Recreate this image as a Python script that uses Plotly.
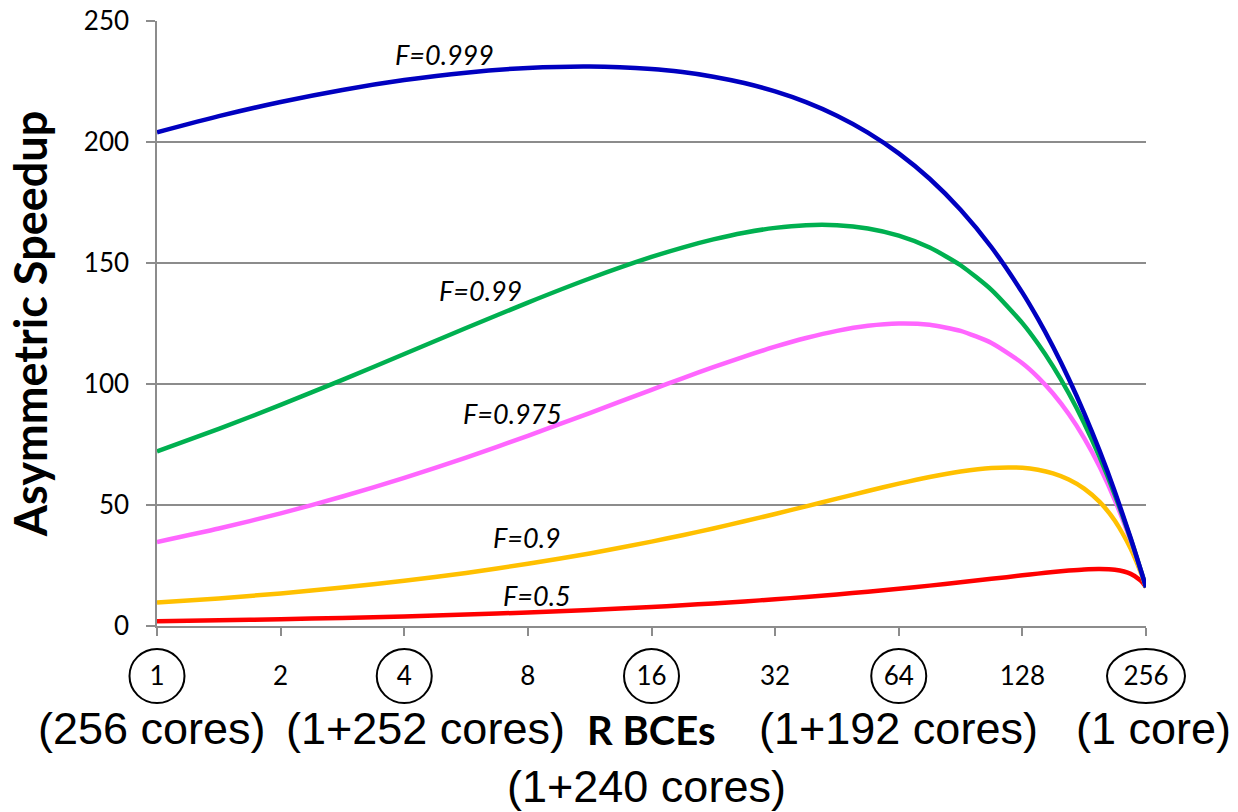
import plotly.graph_objects as go
import math

# R BCEs per big core (x positions)
r_bce = [1, 1.414, 2, 2.828, 4, 5.657, 8, 11.314, 16, 19.03, 22.627, 26.91, 32, 38.05,
         45.255, 53.82, 64, 76.11, 90.51, 107.63, 128, 139.6, 152, 166, 181, 197.4,
         215, 235, 248, 252, 256]

s_0999 = [203.98, 210.67, 216.53, 221.51, 225.58, 228.65, 230.61, 231.23, 230.19, 228.90,
          227.00, 224.37, 220.91, 216.47, 210.86, 203.90, 195.31, 184.80, 172.01, 156.51,
          137.75, 126.97, 115.36, 102.17, 87.97, 72.35, 55.51, 36.28, 23.74, 19.87, 16.0]
s_099 = [72.11, 81.44, 91.35, 101.72, 112.39, 123.12, 133.65, 143.59, 152.50, 156.39,
         159.75, 162.51, 164.51, 165.61, 165.60, 164.25, 161.29, 156.37, 149.07, 138.88,
         125.15, 116.72, 107.28, 96.17, 83.79, 69.74, 54.15, 35.84, 23.63, 19.83, 16.0]
s_0975 = [34.71, 40.27, 46.52, 53.50, 61.20, 69.59, 78.58, 88.00, 97.60, 102.35,
          106.95, 111.35, 115.41, 119.00, 121.96, 124.05, 125.00, 124.46, 121.96, 116.94,
          108.60, 102.88, 96.07, 87.59, 77.64, 65.79, 52.03, 35.13, 23.45, 19.75, 16.0]
s_09 = [9.66, 11.41, 13.47, 15.88, 18.68, 21.93, 25.68, 29.98, 34.86, 37.52,
        40.32, 43.26, 46.30, 49.44, 52.62, 55.78, 58.82, 61.60, 63.88, 65.32,
        65.36, 64.59, 63.10, 60.57, 56.79, 51.27, 43.50, 31.95, 22.60, 19.39, 16.0]
s_05 = [1.99, 2.37, 2.81, 3.34, 3.97, 4.71, 5.59, 6.64, 7.87, 8.57,
        9.33, 10.15, 11.04, 12.01, 13.05, 14.18, 15.38, 16.68, 18.05, 19.48,
        20.93, 21.64, 22.30, 22.90, 23.36, 23.55, 23.21, 21.56, 18.94, 17.65, 16.0]

series_names = ["F=0.999", "F=0.99", "F=0.975", "F=0.9", "F=0.5"]
series_vals = [s_0999, s_099, s_0975, s_09, s_05]
series_colors = ["#0000C0", "#00B050", "#FF66FF", "#FFC000", "#FF0000"]

tick_vals = [1, 2, 4, 8, 16, 32, 64, 128, 256]
tick_text = ["1", "2", "4", "8", "16", "32", "64", "128", "256"]
circled = [1, 4, 16, 64, 256]

y_ticks = [0, 50, 100, 150, 200, 250]

W, H = 1238, 812
ML, MR, MT, MB = 157, 92, 21, 186
PW, PH = W - ML - MR, H - MT - MB

def px2paper(px, py):
    return (px - ML) / PW, (H - MB - py) / PH

fig = go.Figure()
# draw in reverse so blue is on top
for name, vals, col in reversed(list(zip(series_names, series_vals, series_colors))):
    fig.add_trace(go.Scatter(x=r_bce, y=vals, mode="lines", name=name,
                             line=dict(color=col, width=4.5, shape="spline", smoothing=0.6),
                             showlegend=False, hoverinfo="skip"))

# curve labels
label_pos = [(444, 54), (480, 290), (512, 413), (527, 537), (537, 595)]
for name, (px, py) in zip(series_names, label_pos):
    xp, yp = px2paper(px, py)
    fig.add_annotation(x=xp, y=yp, xref="paper", yref="paper", text="<i>" + name + "</i>",
                       showarrow=False, font=dict(family="Lato", size=27, color="black"),
                       xanchor="center", yanchor="middle")

# circles around selected ticks
nmax = math.log2(256)
for v in circled:
    cx = math.log2(v) / nmax
    rx = 39 / PW if v == 256 else 27.5 / PW
    cy0 = (H - MB - 703) / PH
    cy1 = (H - MB - 649) / PH
    fig.add_shape(type="circle", xref="paper", yref="paper",
                  x0=cx - rx, x1=cx + rx, y0=cy0, y1=cy1,
                  line=dict(color="black", width=2))

# bottom text labels
big = [("(256 cores)", 152, 728), ("(1+252 cores)", 425, 728), ("(1+192 cores)", 898, 728),
       ("(1 core)", 1153, 728), ("(1+240 cores)", 646, 786)]
for t, px, py in big:
    xp, yp = px2paper(px, py)
    fig.add_annotation(x=xp, y=yp, xref="paper", yref="paper", text=t, showarrow=False,
                       font=dict(family="Liberation Sans", size=45, color="black"),
                       xanchor="center", yanchor="middle")
xp, yp = px2paper(651, 730)
fig.add_annotation(x=xp, y=yp, xref="paper", yref="paper", text="<b>R BCEs</b>", showarrow=False,
                   font=dict(family="Lato", size=40, color="black"),
                   xanchor="center", yanchor="middle")

fig.update_layout(
    width=W, height=H,
    margin=dict(l=ML, r=MR, t=MT, b=MB, autoexpand=False),
    paper_bgcolor="white", plot_bgcolor="white",
    xaxis=dict(type="log", range=[0, math.log10(256)], tickvals=tick_vals, ticktext=tick_text,
               showgrid=False, showline=True, linecolor="#8C8C8C", linewidth=1.5,
               ticks="outside", ticklen=8, tickcolor="#8C8C8C", tickwidth=1.5,
               tickfont=dict(family="Lato", size=26, color="black"),
               ticklabelstandoff=18, zeroline=False, automargin=False),
    yaxis=dict(range=[0, 250], tickvals=y_ticks, showgrid=True, gridcolor="#8C8C8C", gridwidth=1.5,
               showline=True, linecolor="#8C8C8C", linewidth=1.5,
               ticks="outside", ticklen=9, tickcolor="#8C8C8C", tickwidth=1.5,
               tickfont=dict(family="Lato", size=26, color="black"),
               ticklabelstandoff=12, zeroline=False, automargin=False,
               title=dict(text="<b>Asymmetric Speedup</b>",
                          font=dict(family="Lato", size=45, color="black"), standoff=22)),
)

fig.write_html("out.html")
